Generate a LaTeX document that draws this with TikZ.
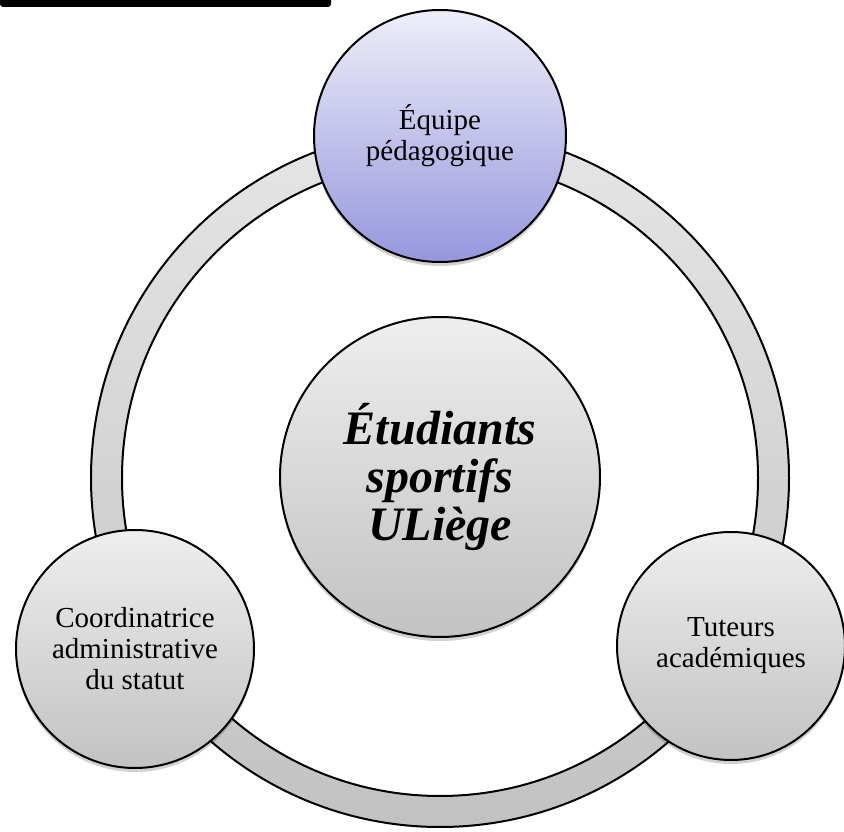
\documentclass[tikz,border=0pt]{standalone}
\usepackage{fontspec}
\setmainfont{Liberation Serif}
\usetikzlibrary{shadows}
\definecolor{lavtop}{RGB}{238,238,249}
\definecolor{lavbot}{RGB}{150,150,221}
\definecolor{graytop}{RGB}{238,238,238}
\definecolor{graybot}{RGB}{194,194,194}
\begin{document}
\begin{tikzpicture}[x=1pt,y=1pt,
    rond/.style={circle,draw=black,line width=2pt,inner sep=0pt,align=center,
        top color=graytop,bottom color=graybot,
        drop shadow={shadow xshift=0pt,shadow yshift=-4pt,opacity=.18,fill=black},
        font=\fontsize{29}{31}\selectfont},
    bleu/.style={rond,top color=lavtop,bottom color=lavbot}]
\useasboundingbox (0,0) rectangle (844,831);
% bandeau noir
\fill (0,832) -- (331,832) {[rounded corners=3pt] -- (331,824) -- (0,824)} -- cycle;
% anneau
\coordinate (c) at (440,353);
\path[even odd rule,top color=graytop!80!graybot,bottom color=graybot] (c) circle (349) (c) circle (318);
\draw[line width=2pt] (c) circle (349) (c) circle (318);
% cercles
\node[rond,minimum size=320pt,font=\fontsize{48}{48}\selectfont\bfseries\itshape] (etud) at (440,354)
    {Étudiants\\sportifs\\ULiège};
\node[bleu,minimum size=252pt] (equipe) at (440,695) {Équipe\\pédagogique};
\node[rond,minimum size=238pt] (coord) at (135,182) {Coordinatrice\\administrative\\du statut};
\node[rond,minimum size=228pt] (tuteurs) at (731,185) {Tuteurs\\académiques};
\end{tikzpicture}
\end{document}
